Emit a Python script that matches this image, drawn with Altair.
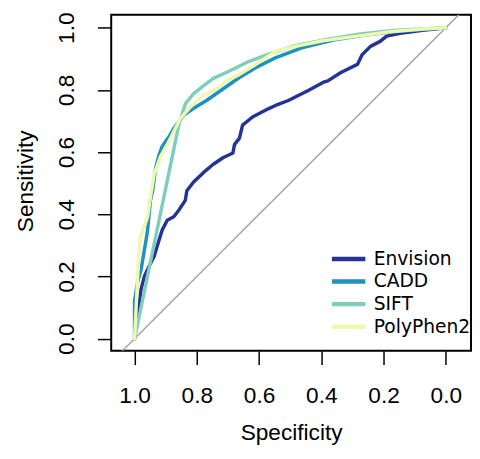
import altair as alt
import pandas as pd

series_names = ["Envision", "CADD", "SIFT", "PolyPhen2"]
series_colors = ["#253494", "#1d91c0", "#7fcdbb", "#edf8b1"]

envision_spec = [1.0, 0.990, 0.979, 0.968, 0.953, 0.937, 0.921, 0.911, 0.895, 0.874, 0.858,
                 0.837, 0.832, 0.811, 0.779, 0.747, 0.716, 0.684, 0.679, 0.663, 0.653, 0.621,
                 0.569, 0.547, 0.506, 0.442, 0.390, 0.379, 0.337, 0.284, 0.269, 0.242, 0.211,
                 0.190, 0.147, 0.074, 0.0]
envision_sens = [0.0, 0.076, 0.160, 0.202, 0.234, 0.265, 0.318, 0.350, 0.381, 0.392, 0.413,
                 0.445, 0.476, 0.503, 0.534, 0.561, 0.582, 0.597, 0.624, 0.645, 0.687, 0.713,
                 0.740, 0.750, 0.766, 0.798, 0.826, 0.829, 0.856, 0.882, 0.913, 0.940, 0.956,
                 0.973, 0.982, 0.992, 1.0]

cadd_spec = [1.0, 1.0, 0.990, 0.979, 0.963, 0.958, 0.949, 0.942, 0.932, 0.921, 0.911, 0.889,
             0.874, 0.842, 0.811, 0.769, 0.716, 0.663, 0.611, 0.548, 0.463, 0.358, 0.253,
             0.169, 0.063, 0.0]
cadd_sens = [0.0, 0.122, 0.182, 0.223, 0.318, 0.350, 0.445, 0.476, 0.550, 0.592, 0.619, 0.650,
             0.676, 0.719, 0.740, 0.766, 0.803, 0.840, 0.871, 0.903, 0.935, 0.961, 0.977,
             0.987, 0.995, 1.0]

sift_spec = [1.0, 0.858, 0.837, 0.811, 0.779, 0.747, 0.695, 0.632, 0.558, 0.484, 0.379, 0.274,
             0.169, 0.063, 0.0]
sift_sens = [0.0, 0.687, 0.755, 0.787, 0.813, 0.837, 0.861, 0.892, 0.919, 0.942, 0.963, 0.980,
             0.991, 0.997, 1.0]

poly_spec = [1.0, 0.984, 0.958, 0.949, 0.937, 0.916, 0.895, 0.874, 0.853, 0.821, 0.779, 0.737,
             0.705, 0.663, 0.611, 0.548, 0.484, 0.390, 0.284, 0.179, 0.074, 0.0]
poly_sens = [0.0, 0.318, 0.392, 0.455, 0.529, 0.587, 0.624, 0.666, 0.708, 0.745, 0.782, 0.803,
             0.829, 0.850, 0.882, 0.924, 0.940, 0.959, 0.973, 0.987, 0.996, 1.0]

diag_spec = [1.2, -0.2]
diag_sens = [-0.2, 1.2]

x_ticks = [1.0, 0.8, 0.6, 0.4, 0.2, 0.0]
y_ticks = [0.0, 0.2, 0.4, 0.6, 0.8, 1.0]

rows = []
for name, sp, se in zip(series_names,
                        [envision_spec, cadd_spec, sift_spec, poly_spec],
                        [envision_sens, cadd_sens, sift_sens, poly_sens]):
    for i, (a, b) in enumerate(zip(sp, se)):
        rows.append({"model": name, "spec": a, "sens": b, "idx": i})
df = pd.DataFrame(rows)
diag_df = pd.DataFrame({"spec": diag_spec, "sens": diag_sens})

xscale = alt.Scale(domain=[1.075, -0.081], nice=False, zero=False)
yscale = alt.Scale(domain=[-0.039, 1.042], nice=False, zero=False)

axis_font = "Liberation Sans"
xaxis = alt.Axis(values=x_ticks, format=".1f", title="Specificity", domain=False, grid=False,
                 tickSize=14, tickWidth=1.5, tickColor="black",
                 labelFont=axis_font, labelFontSize=23, labelColor="black", labelPadding=21,
                 labelFlush=False, labelOverlap=False,
                 titleFont=axis_font, titleFontSize=23, titleFontWeight="normal", titleColor="black",
                 titleX=183, titleY=90, titleAlign="center", titleBaseline="alphabetic")
yaxis = alt.Axis(values=y_ticks, format=".1f", title="Sensitivity", domain=False, grid=False,
                 tickSize=14, tickWidth=1.5, tickColor="black",
                 labelFont=axis_font, labelFontSize=23, labelColor="black", labelPadding=24,
                 labelAngle=270, labelAlign="center", labelBaseline="alphabetic",
                 labelFlush=False, labelOverlap=False,
                 titleFont=axis_font, titleFontSize=23, titleFontWeight="normal", titleColor="black",
                 titleX=-80, titleY=169, titleAngle=270, titleAlign="center", titleBaseline="alphabetic")

color = alt.Color("model:N",
                  scale=alt.Scale(domain=series_names, range=series_colors),
                  sort=series_names,
                  legend=alt.Legend(orient="none", legendX=222, legendY=237, title=None,
                                    symbolType="stroke", symbolStrokeWidth=4.5, symbolSize=1156,
                                    labelFont="DejaVu Sans", labelFontSize=19, labelColor="black",
                                    clipHeight=23, rowPadding=0, padding=0, labelOffset=6))

diag = alt.Chart(diag_df).mark_line(color="#a6a6a6", strokeWidth=1.5, clip=True).encode(
    x=alt.X("spec:Q", scale=xscale, axis=xaxis),
    y=alt.Y("sens:Q", scale=yscale, axis=yaxis),
)

layers = [diag]
for name in series_names:
    layers.append(
        alt.Chart(df).transform_filter(alt.datum.model == name)
        .mark_line(strokeWidth=3.5, strokeCap="round", strokeJoin="round", clip=True)
        .encode(
            x=alt.X("spec:Q", scale=xscale, axis=xaxis),
            y=alt.Y("sens:Q", scale=yscale, axis=yaxis),
            color=color,
            order="idx:Q",
        )
    )

chart = alt.layer(*layers).properties(
    width=366, height=342,
    autosize=alt.AutoSizeParams(type="none"),
    padding={"left": 105, "top": 3, "right": 1, "bottom": 92},
    background="white",
).configure_view(stroke="black", strokeWidth=2)

chart.save("out.html", embed_options={"renderer": "svg", "actions": False})
